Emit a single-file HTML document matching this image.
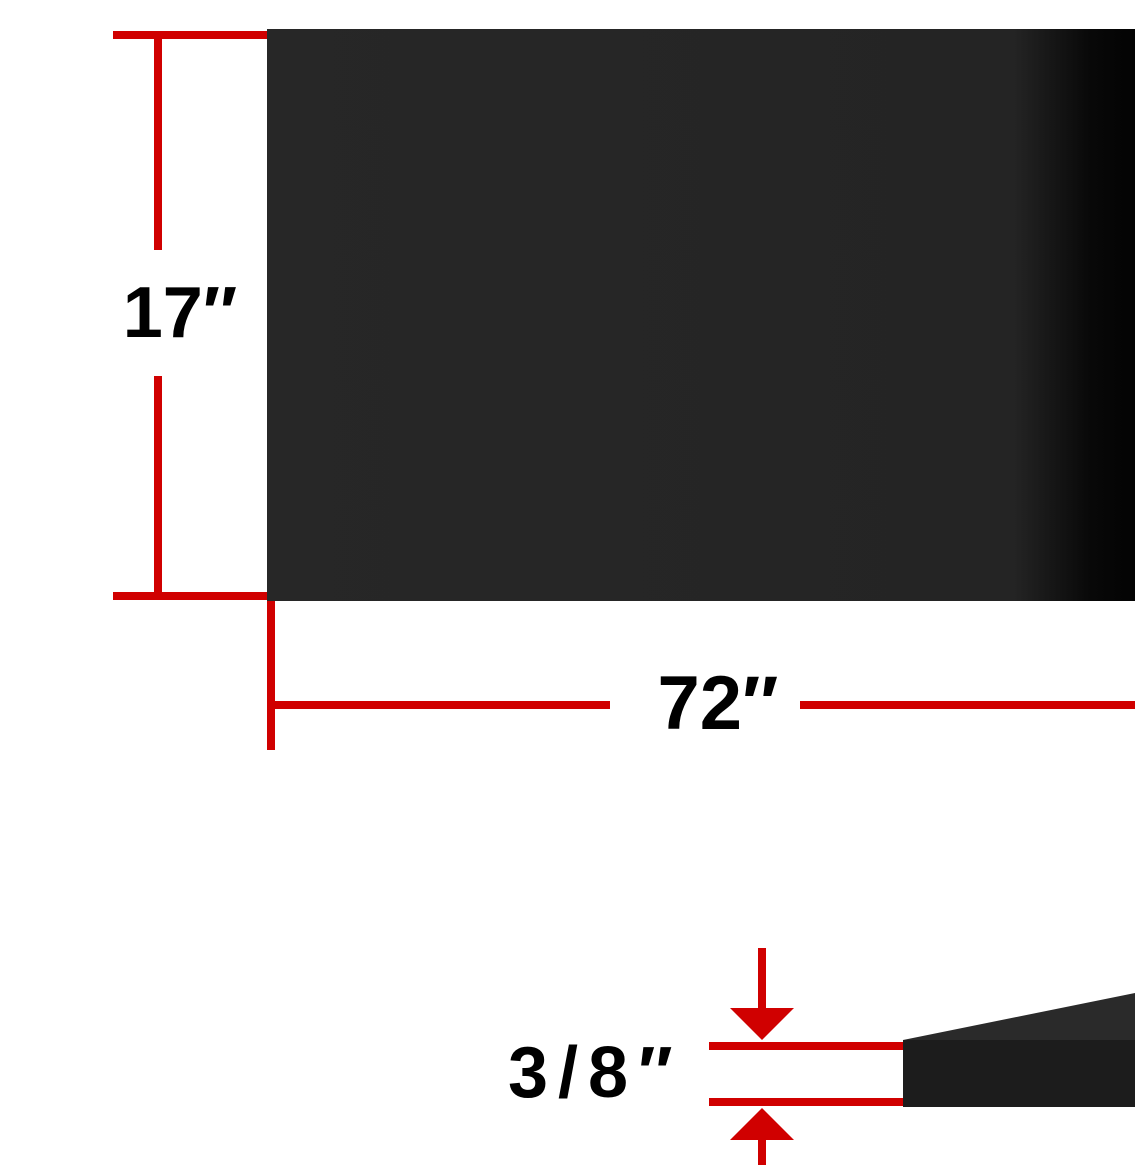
<!DOCTYPE html>
<html><head><meta charset="utf-8"><style>
html,body{margin:0;padding:0;background:#fff;width:1135px;height:1165px;overflow:hidden}
svg text{font-family:"Liberation Sans",sans-serif;font-weight:bold;fill:#000}
</style></head><body>
<svg width="1135" height="1165" viewBox="0 0 1135 1165">
<defs>
<linearGradient id="g" x1="0" x2="1" y1="0" y2="0">
<stop offset="0" stop-color="#272727"/><stop offset="0.86" stop-color="#242424"/><stop offset="0.95" stop-color="#080808"/><stop offset="1" stop-color="#030303"/>
</linearGradient>
</defs>
<rect x="267" y="29" width="868" height="572" fill="url(#g)"/>
<g fill="#d00000">
<rect x="113" y="31" width="154" height="8"/>
<rect x="113" y="592" width="154" height="8"/>
<rect x="154" y="35" width="8" height="215"/>
<rect x="154" y="376" width="8" height="220"/>
</g>
<text x="180" y="337" font-size="72" text-anchor="middle">17″</text>
<g fill="#d00000">
<rect x="267" y="601" width="8" height="149"/>
<rect x="271" y="701" width="339" height="8"/>
<rect x="800" y="701" width="335" height="8"/>
</g>
<text x="718" y="729" font-size="76" text-anchor="middle">72″</text>
<polygon points="903,1040 1135,993 1135,1040" fill="#2a2a2a"/>
<rect x="903" y="1040" width="232" height="67" fill="#1c1c1c"/>
<g fill="#d00000">
<rect x="709" y="1042" width="194" height="8"/>
<rect x="709" y="1098" width="194" height="8"/>
<rect x="758" y="948" width="8" height="62"/>
<polygon points="730,1008 794,1008 762,1040"/>
<polygon points="730,1140 794,1140 762,1108"/>
<rect x="758" y="1138" width="8" height="27"/>
</g>
<text x="508" y="1097" font-size="72" letter-spacing="10">3/8″</text>
</svg>
</body></html>
